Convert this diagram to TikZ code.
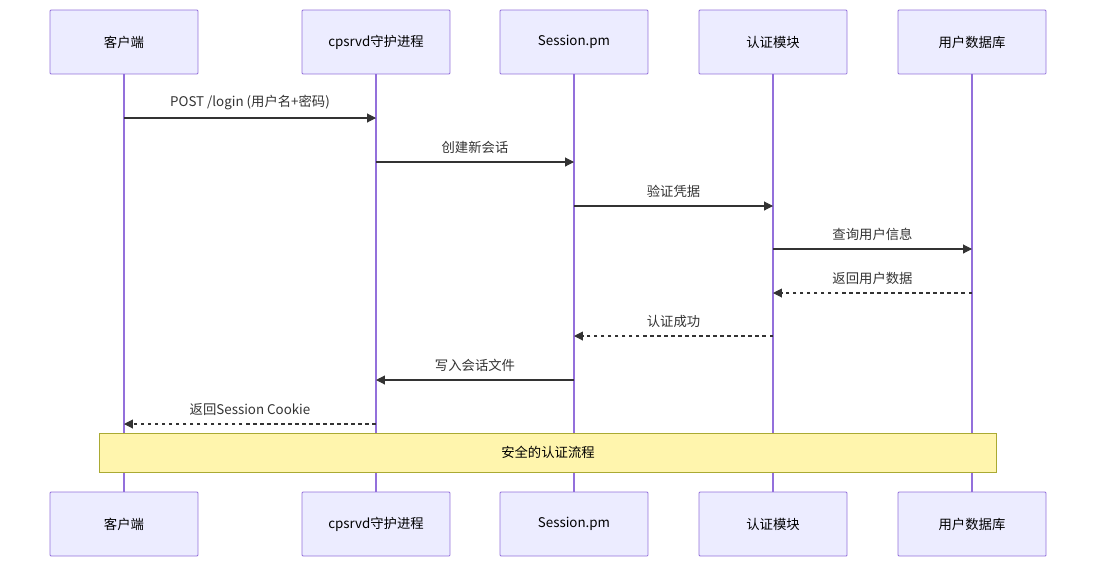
\documentclass[tikz,border=0pt]{standalone}
\usepackage{fontspec}
\setmainfont{Noto Sans CJK SC}
\usetikzlibrary{arrows.meta}
\definecolor{boxfill}{HTML}{ECECFF}
\definecolor{boxline}{HTML}{9370DB}
\definecolor{notefill}{HTML}{FFF5AD}
\definecolor{noteline}{HTML}{AAAA33}
\definecolor{msgline}{HTML}{333333}

\begin{document}
\begin{tikzpicture}[x=0.02cm,y=-0.02cm,font=\fontsize{7.6}{9}\selectfont,
  actor/.style={rectangle,draw=boxline,fill=boxfill,minimum width=2.96cm,minimum height=1.28cm,rounded corners=0.5pt,line width=0.5pt},
  life/.style={draw=boxline,line width=0.8pt},
  msg/.style={draw=msgline,line width=0.6pt,-{Triangle[length=5pt,width=5pt]}},
  reply/.style={msg,dash pattern=on 2pt off 2pt},
  lbl/.style={above=1pt,text=msgline}]
  \useasboundingbox (0,0) rectangle (1104,572);
  \foreach \i/\x/\t in {1/124/客户端,2/376/cpsrvd守护进程,3/574/Session.pm,4/773/认证模块,5/972/用户数据库}{
    \draw[life] (\x,74) -- (\x,492);
    \node[actor] (a\i) at (\x,42) {\t};
    \node[actor] (b\i) at (\x,524) {\t};
  }
  \node[rectangle,draw=noteline,fill=notefill,minimum width=17.96cm,minimum height=0.78cm,line width=0.5pt] (note) at (548,452.5) {安全的认证流程};

  \foreach \y/\p/\q/\s/\t in {118/1/2/msg/{POST /login (用户名+密码)},162/2/3/msg/创建新会话,206/3/4/msg/验证凭据,249/4/5/msg/查询用户信息,293/5/4/reply/返回用户数据,336/4/3/reply/认证成功,380/3/2/msg/写入会话文件,424/2/1/reply/返回Session Cookie}{
    \coordinate (s) at (a\p |- 0,\y);
    \coordinate (e) at (a\q |- 0,\y);
    \draw[\s] (s) -- (e) node[midway,lbl] {\t};
  }
\end{tikzpicture}
\end{document}
